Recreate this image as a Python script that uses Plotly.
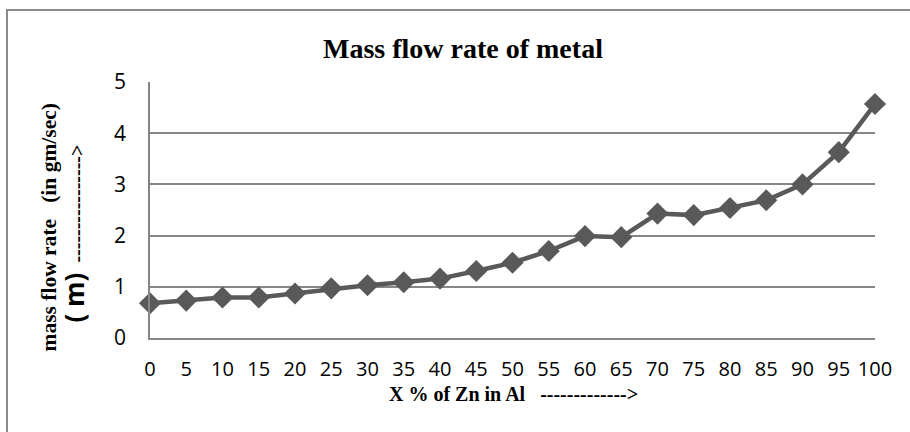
import plotly.graph_objects as go

zn_percent = [0, 5, 10, 15, 20, 25, 30, 35, 40, 45, 50, 55, 60, 65, 70, 75, 80, 85, 90, 95, 100]
mass_flow = [0.68, 0.73, 0.79, 0.79, 0.87, 0.97, 1.03, 1.09, 1.16, 1.31, 1.47, 1.70, 1.99, 1.97, 2.43, 2.40, 2.54, 2.69, 3.00, 3.63, 4.57]
y_ticks = [0, 1, 2, 3, 4, 5]

L, R, T, B = 150, 35, 82, 94
W, H = 910, 432
PW, PH = W - L - R, H - T - B

def px_x(px):
    return (px - L) / PW

def px_y(py):
    return (H - B - py) / PH

fig = go.Figure()
fig.add_trace(go.Scatter(
    x=zn_percent, y=mass_flow, mode="lines+markers",
    line=dict(color="#595959", width=4.5),
    marker=dict(symbol="diamond", size=17, color="#595959"),
    showlegend=False, cliponaxis=False,
))

serif = "Liberation Serif, Times New Roman, serif"
sans = "Open Sans, Lato, sans-serif"

fig.update_layout(
    width=W, height=H,
    margin=dict(l=L, r=R, t=T, b=B),
    paper_bgcolor="white", plot_bgcolor="white",
    xaxis=dict(
        range=[0, 100], tickvals=zn_percent, ticktext=[str(v) for v in zn_percent],
        showgrid=False, zeroline=False, showline=True, linecolor="#868686", linewidth=1.5,
        tickfont=dict(family=sans, size=20, color="black"), ticks="", ticklabelstandoff=12,
    ),
    yaxis=dict(
        range=[0, 5], tickvals=y_ticks, showgrid=True, gridcolor="#868686", gridwidth=1.5,
        zeroline=False, showline=True, linecolor="#868686", linewidth=1.5,
        tickfont=dict(family=sans, size=21, color="black"), ticks="", ticklabelstandoff=18,
    ),
    shapes=[dict(
        type="rect", xref="paper", yref="paper",
        x0=px_x(7), x1=px_x(930), y0=px_y(10), y1=px_y(460),
        line=dict(color="#8c8c8c", width=2), fillcolor="rgba(0,0,0,0)", layer="below",
    )],
    annotations=[
        dict(text="<b>Mass flow rate of metal</b>", xref="paper", yref="paper",
             x=px_x(463), y=px_y(48), xanchor="center", yanchor="middle", showarrow=False,
             font=dict(family=serif, size=28, color="black")),
        dict(text="<b>mass flow rate\u00a0\u00a0\u00a0(in gm/sec)</b>", xref="paper", yref="paper",
             x=px_x(48), y=px_y(227.5), xanchor="center", yanchor="middle", showarrow=False,
             textangle=-90, font=dict(family=serif, size=21.5, color="black")),
        dict(text="<span style='font-family:Open Sans;font-size:26px'><b>( m)</b></span>\u00a0\u00a0<b>----------------></b>",
             xref="paper", yref="paper",
             x=px_x(73), y=px_y(233.5), xanchor="center", yanchor="middle", showarrow=False,
             textangle=-90, font=dict(family=serif, size=20, color="black")),
        dict(text="<b>X % of Zn in Al\u00a0\u00a0\u00a0-------------></b>", xref="paper", yref="paper",
             x=px_x(513), y=px_y(394), xanchor="center", yanchor="middle", showarrow=False,
             font=dict(family=serif, size=20, color="black")),
    ],
)

fig.write_html("out.html")
